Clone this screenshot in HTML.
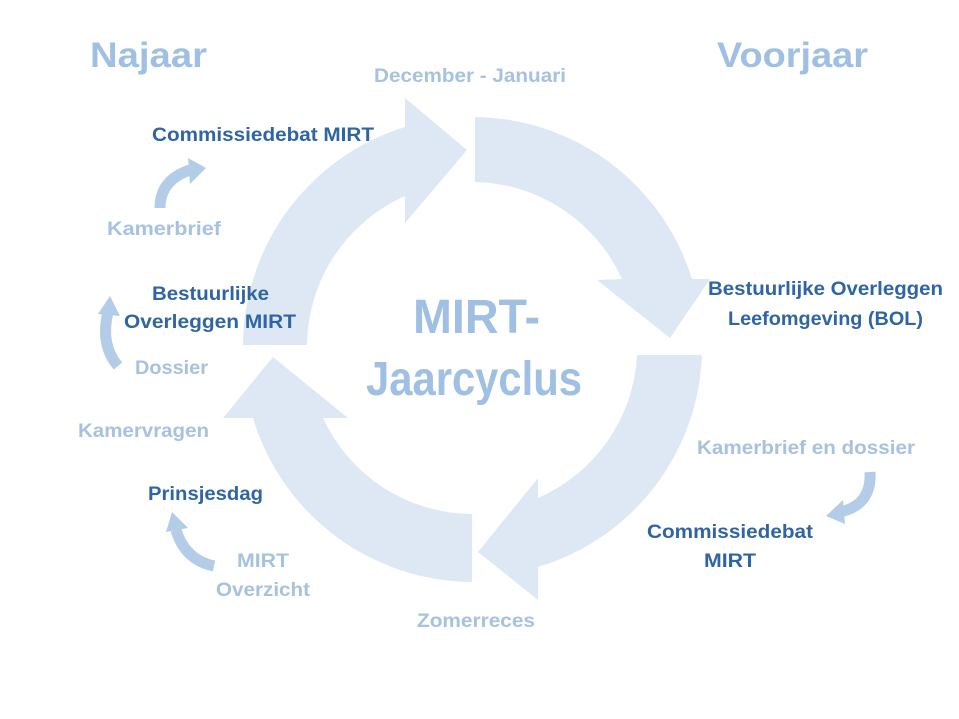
<!DOCTYPE html>
<html><head><meta charset="utf-8"><style>
html,body{margin:0;padding:0;background:#fff;}
svg{display:block;}
text{font-family:"Liberation Sans",sans-serif;font-weight:bold;}
.d{fill:#2f65a2;font-size:19px;}
.l{fill:#a6c2df;font-size:19px;}
</style></head><body>
<svg width="959" height="719" viewBox="0 0 959 719" xmlns="http://www.w3.org/2000/svg">
<g fill="#dde8f4">
<path d="M475,117 A230 230 0 0 1 692,279 L710,279 L670,338 L597,280 L622,279 A165 165 0 0 0 475,182 Z"/>
<path d="M702,355 A230 230 0 0 1 538,567 L538,600 L478,552 L538,478 L538,498 A165 165 0 0 0 637,355 Z"/>
<path d="M472,582 A230 230 0 0 1 253,418 L223,418 L273,357 L348,418 L323,418 A165 165 0 0 0 472,514 Z"/>
<path d="M243,345 A230 230 0 0 1 405,127 L405,98 L467,150 L405,223 L405,196 A165 165 0 0 0 307,345 Z"/>
</g>
<g fill="none" stroke="#b3cce7" stroke-width="11">
<path d="M160,208 Q160,180 190,170"/>
<path d="M118,366 Q100,345 108,312"/>
<path d="M870,472 Q872,505 840,512"/>
<path d="M214,566 Q185,560 176,530"/>
</g>
<g fill="#b3cce7">
<polygon points="188,158 206,168 190,184"/>
<polygon points="98,314 110,296 120,316"/>
<polygon points="843,500 826,516 845,524"/>
<polygon points="166,532 172,512 188,528"/>
</g>
<text x="90" y="67" font-size="35" fill="#9fc0e3" textLength="117" lengthAdjust="spacingAndGlyphs">Najaar</text>
<text x="717" y="67" font-size="35" fill="#9fc0e3" textLength="151" lengthAdjust="spacingAndGlyphs">Voorjaar</text>
<text x="374" y="82" class="l" textLength="192" lengthAdjust="spacingAndGlyphs">December - Januari</text>
<text x="152" y="141" class="d" textLength="222" lengthAdjust="spacingAndGlyphs">Commissiedebat MIRT</text>
<text x="107" y="235" class="l" textLength="114" lengthAdjust="spacingAndGlyphs">Kamerbrief</text>
<text x="152" y="300" class="d" textLength="117" lengthAdjust="spacingAndGlyphs">Bestuurlijke</text>
<text x="124" y="328" class="d" textLength="172" lengthAdjust="spacingAndGlyphs">Overleggen MIRT</text>
<text x="135" y="374" class="l" textLength="73" lengthAdjust="spacingAndGlyphs">Dossier</text>
<text x="78" y="437" class="l" textLength="131" lengthAdjust="spacingAndGlyphs">Kamervragen</text>
<text x="148" y="500" class="d" textLength="115" lengthAdjust="spacingAndGlyphs">Prinsjesdag</text>
<text x="237" y="567" class="l" textLength="52" lengthAdjust="spacingAndGlyphs">MIRT</text>
<text x="216" y="596" class="l" textLength="94" lengthAdjust="spacingAndGlyphs">Overzicht</text>
<text x="417" y="627" class="l" textLength="118" lengthAdjust="spacingAndGlyphs">Zomerreces</text>
<text x="708" y="295" class="d" textLength="235" lengthAdjust="spacingAndGlyphs">Bestuurlijke Overleggen</text>
<text x="728" y="325" class="d" textLength="195" lengthAdjust="spacingAndGlyphs">Leefomgeving (BOL)</text>
<text x="697" y="454" class="l" textLength="218" lengthAdjust="spacingAndGlyphs">Kamerbrief en dossier</text>
<text x="647" y="538" class="d" textLength="166" lengthAdjust="spacingAndGlyphs">Commissiedebat</text>
<text x="704" y="567" class="d" textLength="52" lengthAdjust="spacingAndGlyphs">MIRT</text>
<text x="413" y="333" font-size="48" fill="#9fc0e3" textLength="127" lengthAdjust="spacingAndGlyphs">MIRT-</text>
<text x="366" y="395" font-size="48" fill="#9fc0e3" textLength="216" lengthAdjust="spacingAndGlyphs">Jaarcyclus</text>
</svg>
</body></html>
